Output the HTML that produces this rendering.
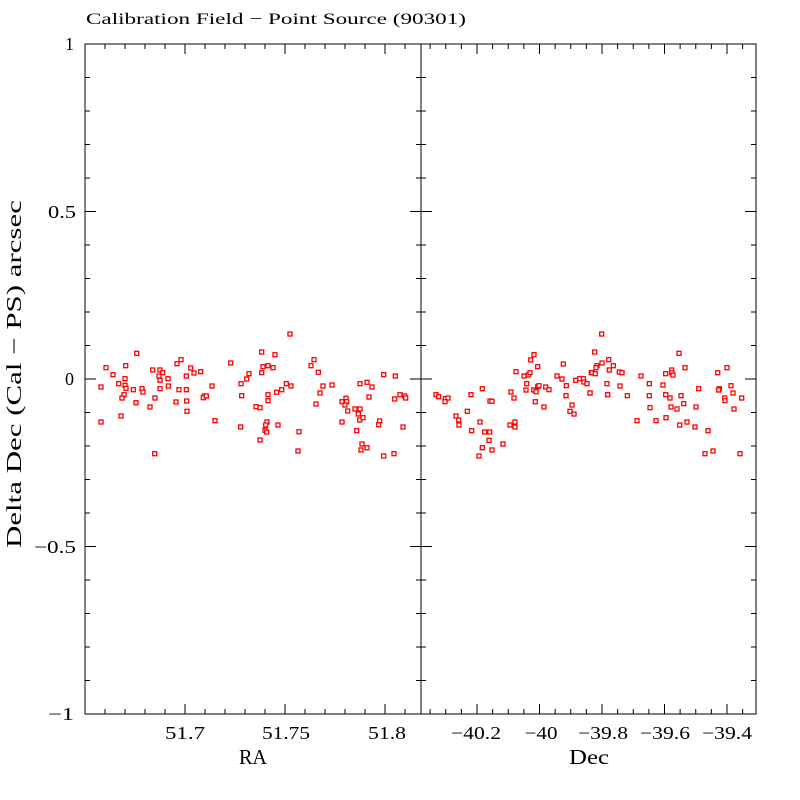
<!DOCTYPE html>
<html><head><meta charset="utf-8"><style>
body{margin:0;background:#fff;}
svg{display:block;font-family:"Liberation Serif",serif;}
</style></head><body>
<svg id="s" width="800" height="800" xmlns="http://www.w3.org/2000/svg">
<rect width="800" height="800" fill="#fff"/>
<text x="86" y="24" font-size="16" textLength="380" lengthAdjust="spacingAndGlyphs">Calibration Field − Point Source (90301)</text>
<g fill="none" stroke="#000" stroke-width="1">
<rect x="85" y="44" width="336" height="670"/>
<rect x="421" y="44" width="335" height="670"/>
</g>
<g id="ticks" stroke="#000" stroke-width="1"></g>
<g font-size="18" text-anchor="end" lengthAdjust="spacingAndGlyphs">
<text x="74" y="50">1</text>
<text x="76" y="218" textLength="28" lengthAdjust="spacingAndGlyphs">0.5</text>
<text x="74" y="385">0</text>
<text x="76" y="553" textLength="42" lengthAdjust="spacingAndGlyphs">−0.5</text>
<text x="74" y="720" textLength="26" lengthAdjust="spacingAndGlyphs">−1</text>
</g>
<g font-size="18" text-anchor="middle">
<text x="185" y="739" textLength="40" lengthAdjust="spacingAndGlyphs">51.7</text>
<text x="286" y="739" textLength="48" lengthAdjust="spacingAndGlyphs">51.75</text>
<text x="387" y="739" textLength="38" lengthAdjust="spacingAndGlyphs">51.8</text>
<text x="476" y="739" textLength="50" lengthAdjust="spacingAndGlyphs">−40.2</text>
<text x="541" y="739" textLength="33" lengthAdjust="spacingAndGlyphs">−40</text>
<text x="603" y="739" textLength="50" lengthAdjust="spacingAndGlyphs">−39.8</text>
<text x="665" y="739" textLength="50" lengthAdjust="spacingAndGlyphs">−39.6</text>
<text x="727" y="739" textLength="50" lengthAdjust="spacingAndGlyphs">−39.4</text>
<text x="253" y="764" font-size="21" textLength="28" lengthAdjust="spacingAndGlyphs">RA</text>
<text x="589" y="764" font-size="21" textLength="40" lengthAdjust="spacingAndGlyphs">Dec</text>
</g>
<text transform="translate(21,374) rotate(-90)" font-size="21" text-anchor="middle" textLength="348" lengthAdjust="spacingAndGlyphs">Delta Dec (Cal − PS) arcsec</text>
<g id="pts" fill="#fff" stroke="#f00" stroke-width="1.3"></g>
</svg>
<script>
var NS="http://www.w3.org/2000/svg";
function ln(g,x1,y1,x2,y2){var l=document.createElementNS(NS,"line");l.setAttribute("x1",x1);l.setAttribute("y1",y1);l.setAttribute("x2",x2);l.setAttribute("y2",y2);g.appendChild(l);}
var T=document.getElementById("ticks");
for(var i=0;i<=20;i++){var y=44+i*33.5;var L=(i%5==0)?11:5;
 ln(T,85,y,85+L,y);ln(T,421,y,421-L,y);ln(T,421,y,421+L,y);ln(T,756,y,756-L,y);}
for(var x=85+((185-85)%20);x<421;x+=20){var m=Math.abs(((x-185)%100+100)%100)<1?10:5;ln(T,x,714,x,714-m);ln(T,x,44,x,44+m);}
for(var k=-10;k<30;k++){var x=477+k*15.625;if(x<=421||x>=756)continue;var m=(k%4==0)?10:5;ln(T,x,714,x,714-m);ln(T,x,44,x,44+m);}
var P=document.getElementById("pts");
function add(x0,y0,a){for(var i=0;i<a.length;i+=2){var r=document.createElementNS(NS,"rect");r.setAttribute("x",(x0+a[i]/3-2).toFixed(1));r.setAttribute("y",(y0+a[i+1]/3-2).toFixed(1));r.setAttribute("width",4);r.setAttribute("height",4);P.appendChild(r);}}
add(85,320,[155,100,63,143,122,137,84,164,48,201,101,191,120,176,120,196,123,205,117,224,111,234,108,288,48,306,145,209,153,248,171,206,174,216,195,261,210,234,203,150,225,150,233,158,222,168,225,181,225,206,249,176,250,198,209,401,276,131,288,119,317,144,327,159,304,168,347,155,282,209,304,209,305,243,273,246,306,274,381,198,358,228,355,233,364,228,390,302,437,129,492,161,485,177,468,191,470,227,467,321]);
add(250,320,[120,42,35,96,75,104,39,140,54,137,69,143,35,158,192,119,183,137,205,157,219,198,246,195,109,191,123,198,95,209,80,217,54,224,54,242,18,260,30,263,210,219,198,252,276,245,288,235,290,245,285,255,293,273,315,267,330,267,325,282,329,300,339,293,276,306,320,332,336,372,333,390,351,383,401,408,432,401,51,306,47,315,45,331,50,336,84,315,147,335,30,360,144,393,401,164,436,168,330,191,351,187,366,201,357,231,434,237,450,224,464,228,467,234,389,303,386,314,459,321]);
add(421,320,[45,224,53,230,73,236,81,234,72,245,150,224,184,206,139,274,105,288,113,300,114,315,177,306,152,332,191,336,206,336,207,243,213,244,204,361,184,383,213,390,174,408,246,372,270,216,279,234,267,315,282,306,282,321,285,155,309,168,322,165,327,158,329,120,339,104,350,140,317,191,315,210,338,210,345,215,350,200,354,197,343,245,369,261,374,201,384,209,427,132,408,168,423,177,436,197,435,227,453,255,447,274,459,282,464,181,476,176,487,176,489,186,498,191,507,219,511,158]);
add(588,320,[41,42,20,96,62,119,42,129,27,137,24,143,76,137,64,150,12,158,22,161,94,156,102,158,159,168,57,191,96,198,6,219,59,224,118,227,184,191,184,227,186,263,225,195,233,161,251,150,251,158,255,165,291,143,273,100,233,224,246,234,249,261,267,267,279,227,287,251,324,261,332,206,147,302,204,302,234,293,275,315,297,306,321,321,360,332,389,158,417,143,394,206,392,210,429,197,435,219,410,234,411,242,461,234,438,267,351,401,375,393,456,401]);
</script>
</body></html>
